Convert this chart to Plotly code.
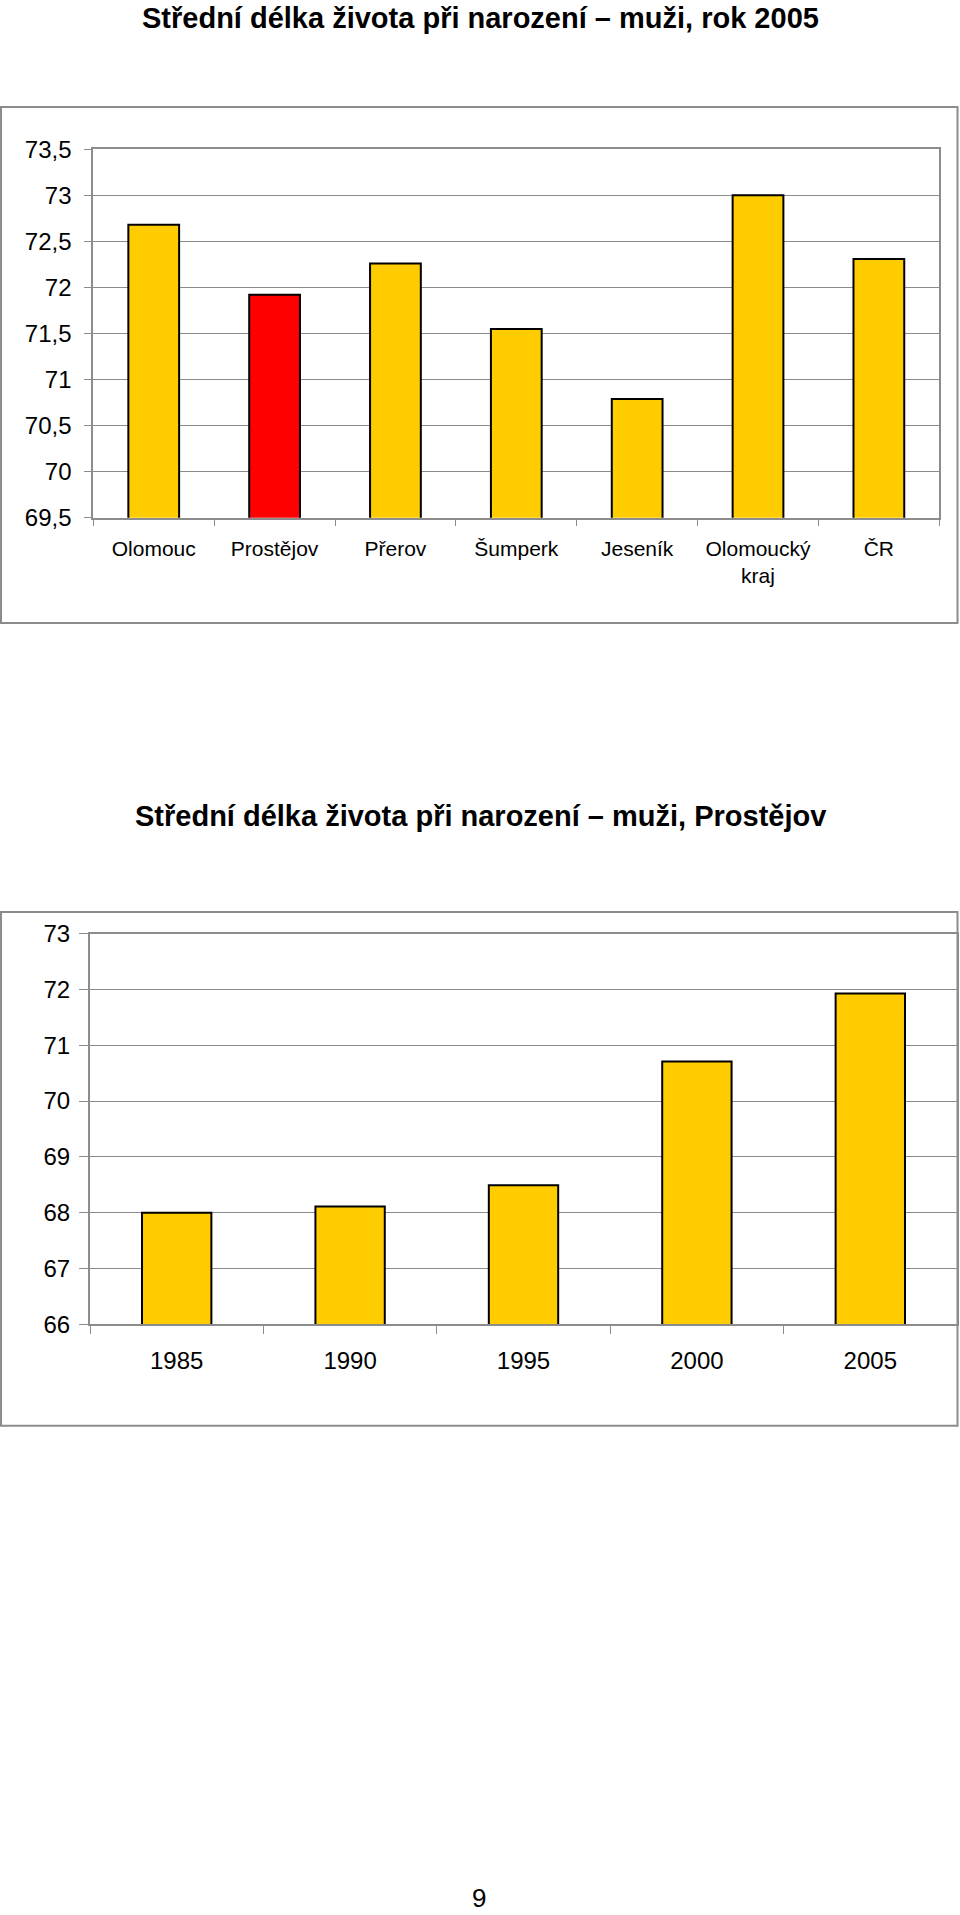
import plotly.graph_objects as go

# ---- data ----
regions = ["Olomouc", "Prostějov", "Přerov", "Šumperk", "Jeseník", "Olomoucký<br>kraj", "ČR"]
life_2005 = [72.68, 71.92, 72.26, 71.55, 70.79, 73.0, 72.31]
region_colors = ["#FFCC00", "#FF0000", "#FFCC00", "#FFCC00", "#FFCC00", "#FFCC00", "#FFCC00"]

years = ["1985", "1990", "1995", "2000", "2005"]
life_prostejov = [68.0, 68.11, 68.49, 70.71, 71.93]

title1 = "Střední délka života při narození – muži, rok 2005"
title2 = "Střední délka života při narození – muži, Prostějov"
page_no = "9"

W, H = 960, 1915
FONT = "Liberation Sans, Arial, Helvetica, sans-serif"
GRID = "#8c8c8c"


def px(x):
    return x / W


def py(y):
    return 1 - y / H


fig = go.Figure()
fig.add_trace(go.Bar(
    x=regions, y=life_2005, width=0.42,
    marker=dict(color=region_colors, line=dict(color="black", width=2)),
    xaxis="x", yaxis="y", hoverinfo="skip", showlegend=False,
))
fig.add_trace(go.Bar(
    x=years, y=life_prostejov, width=0.40,
    marker=dict(color="#FFCC00", line=dict(color="black", width=2)),
    xaxis="x2", yaxis="y2", hoverinfo="skip", showlegend=False,
))

line_common = dict(showline=True, linecolor=GRID, linewidth=2, mirror=True,
                   zeroline=False, tickcolor=GRID, tickwidth=1, ticks="outside",
                   automargin=False)
grid_common = dict(showgrid=True, gridcolor=GRID, gridwidth=1)

fig.update_layout(
    width=W, height=H, autosize=False,
    margin=dict(l=0, r=0, t=0, b=0, pad=0),
    paper_bgcolor="white", plot_bgcolor="white",
    separators=", ",
    font=dict(family=FONT, color="black"),
    xaxis=dict(domain=[px(93.3), px(939.3)], anchor="y", type="category",
               tickson="boundaries", ticklen=6, showgrid=False,
               tickfont=dict(size=21), ticklabelstandoff=11, **line_common),
    yaxis=dict(domain=[py(517.7), py(149.3)], anchor="x", range=[69.5, 73.5],
               tick0=69.5, dtick=0.5, ticklen=7, tickfont=dict(size=24),
               ticklabelstandoff=8, **line_common, **grid_common),
    xaxis2=dict(domain=[px(90), px(957)], anchor="y2", type="category",
                tickson="boundaries", ticklen=8, showgrid=False,
                tickfont=dict(size=24), ticklabelstandoff=14, **line_common),
    yaxis2=dict(domain=[py(1324.2), py(933.7)], anchor="x2", range=[66, 73],
                tick0=66, dtick=1, ticklen=9, tickfont=dict(size=24),
                ticklabelstandoff=4, **line_common, **grid_common),
)

fig.add_shape(type="rect", xref="paper", yref="paper",
              x0=px(1), x1=px(957.5), y0=py(623), y1=py(107),
              line=dict(color=GRID, width=2), layer="below")
fig.add_shape(type="rect", xref="paper", yref="paper",
              x0=px(1), x1=px(957.5), y0=py(1425.8), y1=py(912),
              line=dict(color=GRID, width=2), layer="below")

fig.add_annotation(text="<b>" + title1 + "</b>", xref="paper", yref="paper",
                   x=px(480), y=1, xanchor="center", yanchor="top",
                   showarrow=False, font=dict(size=29, family=FONT))
fig.add_annotation(text="<b>" + title2 + "</b>", xref="paper", yref="paper",
                   x=px(480), y=py(816), xanchor="center", yanchor="middle",
                   showarrow=False, font=dict(size=29, family=FONT))
fig.add_annotation(text=page_no, xref="paper", yref="paper",
                   x=px(479), y=0, xanchor="center", yanchor="bottom",
                   showarrow=False, font=dict(size=26, family=FONT))

fig.write_html(
    "out.html",
    config={"displayModeBar": False},
    post_script="document.body.style.margin='0';"
                "document.documentElement.style.overflow='hidden';"
                "document.body.style.overflow='hidden';",
)
